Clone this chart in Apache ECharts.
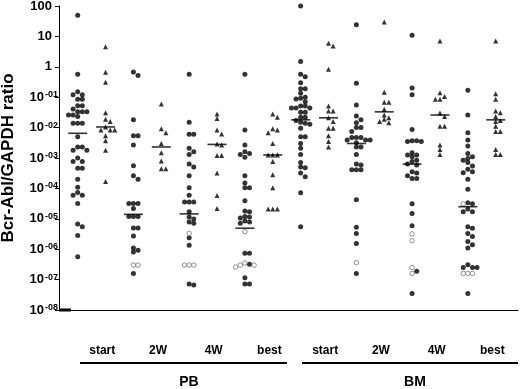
<!DOCTYPE html>
<html><head><meta charset="utf-8">
<script src="https://cdn.jsdelivr.net/npm/echarts@6/dist/echarts.min.js"></script>
<style>html,body{margin:0;padding:0;background:#fff}#c{width:520px;height:389px}</style>
</head><body><div id="c"></div>
<script>
// ---- tick labels / categories ----
const yTickValues = [1e-8, 1e-7, 1e-6, 1e-5, 1e-4, 1e-3, 1e-2, 1e-1, 1, 10, 100];
const yTickText = ['10^-08','10^-07','10^-06','10^-05','10^-04','10^-03','10^-02','10^-01','1','10','100'];
const timeLabels = ['start','2W','4W','best','start','2W','4W','best'];
const groupLabels = ['PB','BM'];
const yAxisTitle = 'Bcr-Abl/GAPDH ratio';

// ---- data (ratio values) ----
const pbStartCircle = [50,0.57,0.15,0.12,0.12,0.085,0.085,0.052,0.052,0.041,0.033,0.033,0.033,0.026,0.026,0.023,0.014,0.014,0.014,0.005,0.0023,0.0023,0.0018,0.0018,0.001,7.6e-4,7.6e-4,4.6e-4,4.6e-4,2.0e-4,1.1e-4,7.4e-5,6.0e-5,6.0e-5,3.2e-5,6.8e-6,5.5e-6,2.8e-6,5.6e-7];
const pbStartTriangle = [4.6,0.66,0.31,0.031,0.019,0.016,0.0105,0.0083,0.0083,0.0083,0.0054,0.0037,0.0018,1.7e-4];
const pb2WCircle = [0.68,0.52,0.018,0.0054,0.0054,0.0027,5.6e-4,2.6e-4,2.0e-4,3.2e-5,3.2e-5,3.2e-5,2.2e-5,1.2e-5,1.2e-5,1.2e-5,5.0e-6,5.0e-6,2.7e-6,1.1e-6,9.3e-7,8.1e-7,1.6e-7];
const pb2WOpen = [3.0e-7,3.0e-7];
const pb2WTriangle = [0.06,0.0091,0.0068,0.003,0.0015,7.9e-4,4.4e-4,4.4e-4];
const pb4WCircle = [0.57,0.015,0.006,0.006,0.0021,0.0016,0.0013,6.3e-4,5.1e-4,2.6e-4,1.05e-4,6.0e-5,3.6e-5,3.6e-5,3.6e-5,1.7e-5,1.15e-5,9.8e-6,7.8e-6,7.2e-6,2.4e-6,1.35e-6,7.2e-8,6.6e-8];
const pb4WOpen = [3.3e-6,3.0e-7,3.0e-7,3.0e-7];
const pb4WTriangle = [0.028,0.020,0.0083,0.0062,0.0029,0.0027,0.0012,0.0012,3.2e-4,5.8e-5,2.2e-5];
const pbBestCircle = [0.57,0.0083,0.0027,0.0016,0.0014,0.0013,0.00105,2.6e-4,1.5e-4,1.05e-4,1.05e-4,3.9e-5,1.8e-5,1.7e-5,1.2e-5,1.15e-5,1.07e-5,8.5e-6,7.8e-6,7.2e-6,7.4e-7,7.4e-7,3.2e-7,1.15e-7,7.2e-8,7.2e-8];
const pbBestOpen = [3.8e-6,3.5e-7,3.0e-7,3.0e-7,2.6e-7];
const pbBestTriangle = [0.028,0.022,0.0091,0.0083,0.0068,0.003,0.00126,0.00126,0.00126,7.6e-4,2.8e-4,1.05e-4,2.1e-5,2.1e-5,2.1e-5];
const bmStartCircle = [100,1.5,0.57,0.47,0.30,0.19,0.19,0.135,0.10,0.093,0.087,0.071,0.051,0.051,0.044,0.044,0.044,0.032,0.032,0.022,0.022,0.017,0.015,0.014,0.013,0.0096,0.005,0.005,0.003,0.0021,0.0013,7.1e-4,5.1e-4,4.8e-4,3.2e-4,2.4e-4,7.2e-5,5.5e-6];
const bmStartTriangle = [5.9,4.8,0.83,0.051,0.035,0.035,0.021,0.016,0.0096,0.0096,0.0054,0.0035,0.0023];
const bm2WCircle = [24,0.29,0.055,0.024,0.018,0.0145,0.01,0.01,0.0074,0.0047,0.0047,0.0047,0.0039,0.0039,0.0039,0.0032,0.0023,0.0023,0.0013,6.3e-4,5.9e-4,4.1e-4,4.1e-4,4.1e-4,4.2e-5,5.3e-6,3.3e-6,1.55e-6,1.6e-7];
const bm2WOpen = [3.6e-7];
const bm2WTriangle = [30,0.145,0.068,0.068,0.04,0.026,0.021,0.019,0.016,0.0145];
const bm4WCircle = [11,0.2,0.12,0.0087,0.0037,0.0037,0.0035,0.0035,0.0015,0.00126,0.00126,0.0011,8.5e-4,7.6e-4,6.3e-4,5.9e-4,3.5e-4,3.2e-4,2.6e-4,2.1e-4,2.1e-4,3.1e-5,1.5e-5,5.9e-6,1.9e-7,3.5e-8];
const bm4WOpen = [3.2e-6,1.9e-6,2.5e-7,1.6e-7];
const bm4WTriangle = [7.1,0.14,0.105,0.085,0.085,0.03,0.023,0.011,0.011,0.0027,0.0019,0.0013];
const bmBestCircle = [0.17,0.026,0.0068,0.0039,0.0025,0.0014,0.0011,9.7e-4,8.5e-4,7.1e-4,5.5e-4,4.3e-4,3.5e-4,3.3e-4,2.0e-4,9.3e-5,3.4e-5,3.1e-5,2.1e-5,1.7e-5,1.7e-5,5.5e-6,4.9e-6,3.3e-6,2.6e-6,1.8e-6,1.4e-6,1.1e-6,3.1e-7,2.5e-7,2.5e-7,2.5e-7,3.5e-8];
const bmBestOpen = [3.1e-5,1.6e-7,1.6e-7,1.6e-7];
const bmBestTriangle = [7.1,0.13,0.085,0.035,0.031,0.023,0.017,0.016,0.011,0.0074,0.0074,0.0019,0.0013,0.0013];
const medians = [0.0065,0.0105,1.4e-5,0.0023,1.45e-5,0.0028,4.9e-6,0.00126,0.018,0.021,0.003,0.033,6.3e-4,0.026,2.5e-5,0.018];

// column order: PB start/2W/4W/best, BM start/2W/4W/best; circles then triangles
const filledCols = [pbStartCircle,pbStartTriangle,pb2WCircle,pb2WTriangle,pb4WCircle,pb4WTriangle,pbBestCircle,pbBestTriangle,
                    bmStartCircle,bmStartTriangle,bm2WCircle,bm2WTriangle,bm4WCircle,bm4WTriangle,bmBestCircle,bmBestTriangle];
const openCols = [[],[],pb2WOpen,[],pb4WOpen,[],pbBestOpen,[],[],[],bm2WOpen,[],bm4WOpen,[],bmBestOpen,[]];

const FONT = 'Liberation Sans, Arial, Helvetica, sans-serif';
const X_MIN = -0.671, X_MAX = 15.8;
const LABEL_SHIFT = 0.12;

const chart = echarts.init(document.getElementById('c'), null, {renderer: 'canvas'});

function yLabelFmt(value) {
  const e = Math.round(Math.log10(value));
  const i = yTickValues.findIndex(t => Math.round(Math.log10(t)) === e);
  const t = yTickText[i];
  if (t.indexOf('^') >= 0) {
    const parts = t.split('^');
    return '{b|' + parts[0] + '}{s|' + parts[1] + '}';
  }
  return '{p|' + t + '}';
}

function makeOption(circ, tri, opn) {
  return {
    animation: false,
    backgroundColor: '#fff',
    textStyle: {fontFamily: FONT},
    grid: {left: 59, right: 2, top: 6, bottom: 79, containLabel: false, outerBoundsMode: 'none'},
    xAxis: {
      type: 'value', min: X_MIN, max: X_MAX,
      splitLine: {show: false},
      axisTick: {show: false},
      axisLine: {show: true, onZero: false, lineStyle: {color: '#000', width: 1}},
      axisLabel: {
        customValues: timeLabels.map((_, k) => 2 * k + 1 - LABEL_SHIFT),
        formatter: v => timeLabels[Math.round((v + LABEL_SHIFT - 1) / 2)],
        margin: 35, color: '#000', fontSize: 12, fontWeight: 'bold', fontFamily: FONT
      }
    },
    yAxis: {
      type: 'log', logBase: 10, min: 1e-8, max: 100,
      splitLine: {show: false},
      axisLine: {show: true, onZero: false, lineStyle: {color: '#000', width: 1}},
      axisTick: {show: true, length: 4, customValues: yTickValues, lineStyle: {color: '#000', width: 1}},
      axisLabel: {
        customValues: yTickValues, margin: 1, formatter: yLabelFmt,
        rich: {
          p: {fontSize: 13, fontWeight: 'bold', fontFamily: FONT, color: '#000', padding: [0, 6, 0, 0], lineHeight: 14},
          b: {fontSize: 13, fontWeight: 'bold', fontFamily: FONT, color: '#000', lineHeight: 14},
          s: {fontSize: 9, fontWeight: 'bold', fontFamily: FONT, color: '#000', lineHeight: 10, verticalAlign: 'top', padding: [0, 0, 0, 1]}
        }
      },
      name: yAxisTitle, nameLocation: 'middle', nameRotate: 90, nameGap: 42,
      nameTextStyle: {fontSize: 17, fontWeight: 'bold', fontFamily: FONT, color: '#000'}
    },
    graphic: [
      {type: 'line', shape: {x1: 80, y1: 363, x2: 287, y2: 363}, style: {stroke: '#000', lineWidth: 2}},
      {type: 'line', shape: {x1: 302, y1: 363, x2: 518, y2: 363}, style: {stroke: '#000', lineWidth: 2}},
      {type: 'text', x: 189, y: 382, style: {text: groupLabels[0], fontSize: 14, fontWeight: 'bold', fontFamily: FONT, fill: '#000', align: 'center', verticalAlign: 'middle'}},
      {type: 'text', x: 415, y: 382, style: {text: groupLabels[1], fontSize: 14, fontWeight: 'bold', fontFamily: FONT, fill: '#000', align: 'center', verticalAlign: 'middle'}},
      {type: 'line', shape: {x1: 59, y1: 310, x2: 71, y2: 310}, style: {stroke: '#000', lineWidth: 3}}
    ],
    series: [
      {name: 'circle', type: 'scatter', symbol: 'circle', symbolSize: 5, clip: false, data: circ,
       itemStyle: {color: '#000'}, z: 3},
      {name: 'triangle', type: 'scatter', symbol: 'triangle', symbolSize: 5, clip: false, data: tri,
       itemStyle: {color: '#000'}, z: 3},
      {name: 'open', type: 'scatter', symbol: 'circle', symbolSize: 4.5, clip: false, data: opn,
       itemStyle: {color: '#fff', borderColor: '#777', borderWidth: 1}, z: 3},
      {name: 'median', type: 'scatter', symbol: 'rect', symbolSize: [19, 1.6], clip: false,
       data: medians.map((m, i) => [i, m]), itemStyle: {color: '#000'}, z: 4}
    ]
  };
}

chart.setOption(makeOption([], [], []));

// beeswarm placement computed from the axis scale
const STEP = 4.6;      // horizontal slot width (px)
const GAP = 4.0;       // min vertical distance within a slot (px)
const order = [0, 1, -1, 2, -2, 3, -3];
const circ = [], tri = [], opn = [];
for (let c = 0; c < filledCols.length; c++) {
  const pts = [];
  filledCols[c].forEach(v => pts.push({v, kind: c % 2 ? 'tri' : 'circ'}));
  openCols[c].forEach(v => pts.push({v, kind: 'open'}));
  pts.forEach(p => { p.py = chart.convertToPixel({gridIndex: 0}, [c, p.v])[1]; });
  pts.sort((a, b) => a.py - b.py);
  const placed = [];
  pts.forEach(p => {
    let slot = 0;
    for (const s of order) {
      if (!placed.some(q => q.slot === s && Math.abs(q.py - p.py) < GAP)) { slot = s; break; }
    }
    p.slot = slot; placed.push(p);
    const item = {value: [c, p.v], symbolOffset: [slot * STEP, 0]};
    (p.kind === 'tri' ? tri : p.kind === 'open' ? opn : circ).push(item);
  });
}
chart.setOption(makeOption(circ, tri, opn));
</script></body></html>
